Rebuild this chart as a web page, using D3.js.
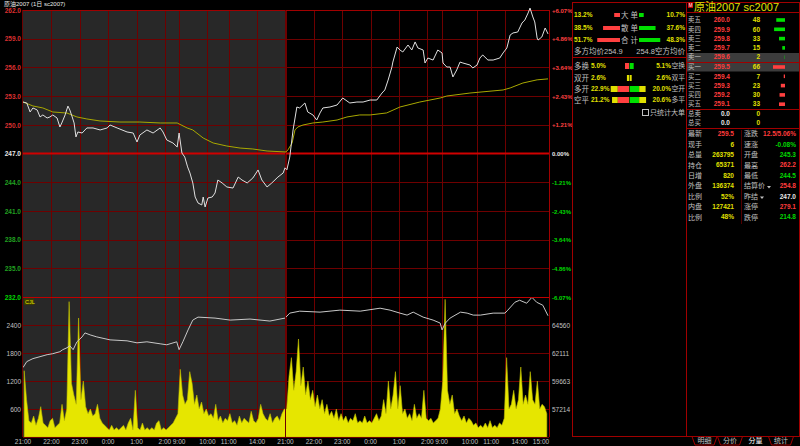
<!DOCTYPE html>
<html><head><meta charset="utf-8">
<script src="https://cdn.jsdelivr.net/npm/d3@7"></script>
<style>
body{margin:0;background:#000;overflow:hidden}
svg{display:block}
text{font-family:"Liberation Sans","Noto Sans CJK SC",sans-serif}
</style>
</head><body>
<svg id="c" width="800" height="446"></svg>
<script>
// ---------------- DATA ----------------
const prevSettle = 247.0;
const priceTicks = [262,259,256,253,250,247,244,241,238,235,232];
const volTicks = [600,1200,1800,2400];
const oiTicks = [57214,59663,62111,64560];
const timeLabels = ["21:00","22:00","23:00","0:00","1:00","2:00","9:00","10:00","11:00","14:00",
                    "21:00","22:00","23:00","0:00","1:00","2:00","9:00","10:00","11:00","14:00","15:00"];
const timeLabelMinutes = [0,60,120,180,240,300,330,390,435,495,555,615,675,735,795,855,885,945,990,1050,1110];
const gridMinutes = [60,120,180,240,300,330,390,435,495,555,615,675,735,795,855,885,960,1020];

const priceMinutes = [0,8,15,21,30,36,42,51,57,63,72,78,82,89,95,99,104,108,112,116,125,135,148,163,178,184,199,220,233,241,247,262,275,290,296,304,317,326,330,336,342,348,353,359,364,370,378,381,385,391,400,406,412,421,431,444,455,463,474,486,497,505,516,526,539,550,554,
 558,564,571,579,585,596,602,613,621,628,634,649,664,676,691,706,719,734,748,759,765,772,780,782,791,797,803,814,822,829,835,846,850,856,867,877,886,888,896,903,909,917,924,930,945,951,960,966,972,983,994,1008,1015,1023,1030,1036,1046,1055,1061,1068,1072,1078,1082,1087,1089,1097,1104,1110];
const priceValues = [252.38,252.28,251.34,251.76,251.55,250.82,251.03,250.71,250.82,251.03,250.71,249.77,250.19,251.03,251.96,251.55,250.82,250.19,248.73,249.25,249.14,249.67,249.67,249.46,249.67,249.98,249.67,249.25,249.14,248.2,248.93,249.46,249.14,249.67,249.25,248.41,248.1,247.68,249.14,247.05,246.63,245.6,244.96,243.92,242.45,241.83,241.62,242.45,241.41,242.35,242.45,242.87,244.23,243.92,243.5,243.39,244.54,244.23,243.92,244.44,245.28,244.23,243.5,243.92,244.54,244.96,245.5,
 245.3,246.63,249.46,251.86,251.76,252.28,251.34,251.03,250.5,251.24,251.76,251.86,252.07,252.8,252.28,252.38,252.38,252.59,252.59,253.32,253.64,254.68,256.04,256.56,258.13,257.82,257.61,258.34,257.82,258.66,258.03,257.82,256.46,256.98,256.77,257.82,257.51,256.46,256.04,256.04,255.0,255.73,256.56,256.46,256.25,255.94,256.25,256.98,257.3,256.77,256.77,256.98,257.51,258.03,259.39,259.6,259.7,260.64,260.95,261.69,262.2,261.27,260.75,259.07,258.86,259.18,260.12,259.5];

const avgMinutes = [0,21,42,63,93,114,135,163,205,247,290,326,347,359,381,402,431,459,486,516,556,
 560,569,575,581,592,613,634,664,685,712,734,769,797,839,882,896,945,1015,1030,1057,1087,1110];
const avgValues = [252.38,251.97,251.76,251.34,251.23,250.82,250.61,250.4,250.29,250.29,250.19,250.19,249.67,249.46,248.62,248.1,247.78,247.57,247.47,247.26,247.16,
 247.37,248.1,249.46,249.77,249.98,250.19,250.29,250.5,250.82,251.03,251.03,251.24,251.86,252.38,252.8,253.01,253.32,253.64,253.85,254.37,254.7,254.8];

const oiMinutes = [0,8,21,36,51,63,78,84,93,99,106,114,125,131,142,156,184,220,241,262,290,304,325,330,338,349,359,370,406,438,480,522,554,564,585,628,670,713,755,776,797,812,825,846,867,882,886,893,903,925,939,952,967,994,1019,1025,1040,1050,1065,1076,1086,1099,1110];
const oiValues = [60840,61360,61620,61790,61965,62050,62225,62400,62570,62745,62400,63090,63520,63870,63695,63520,63260,63175,63000,63090,62915,62830,63090,62400,63090,64130,64990,65250,65165,64990,65080,64905,65165,65600,65770,65685,65860,65770,66030,65860,65600,65425,65685,65250,64990,64730,64130,64730,65165,65685,65600,65425,65425,65600,65600,65860,66550,66725,66465,66980,66550,66290,65371];

// 5-minute volume bins (222 bins over 1110 minutes)
const volumeValues = [
 1420,800,350,300,450,250,400,650,300,250,
 200,350,400,200,250,300,700,350,600,2900,
 1150,900,700,2550,800,1200,650,500,600,450,
 500,700,400,300,250,200,150,250,150,200,
 150,200,250,150,300,400,150,1000,200,150,
 300,150,200,150,200,150,300,350,150,200,
 150,200,250,300,400,500,1450,900,700,800,
 1400,1150,700,900,600,750,500,600,450,500,
 400,700,350,450,300,400,350,500,300,350,
 250,450,300,400,350,300,550,350,300,400,
 700,500,400,350,500,300,400,450,350,500,
 600,
 600,1300,1700,1000,1400,2100,1100,1500,900,1200,
 800,1000,650,900,600,800,500,700,450,550,
 400,600,350,500,350,450,300,400,350,500,
 300,350,300,450,300,350,300,400,500,350,
 450,800,500,1200,600,900,1400,600,1100,500,
 600,400,500,350,700,400,500,400,1000,400,
 350,400,300,350,400,600,1200,2950,1000,700,
 900,500,600,450,350,450,300,400,350,250,
 300,200,250,200,300,200,350,200,250,200,
 300,250,400,1700,600,700,1000,600,800,1500,
 700,900,700,1400,800,700,1200,600,700,650,
 500];

// middle panel
const flowLabels = ["大 单","散 单","合 计"];
const flowBuy = [13.2,38.5,51.7];
const flowSell = [10.7,37.6,48.3];
const avgBuyPrice = 254.9, avgSellPrice = 254.8;
const posLeftLabels = ["多换","双开","多开","空平"];
const posLeftVals = [5.0,2.6,22.9,21.2];
const posRightLabels = ["空换","双平","空开","多平"];
const posRightVals = [5.1,2.6,20.0,20.6];
const posLeftInner = [5.0,0,14.0,14.0];
const posRightInner = [5.1,0,12.0,12.0];

// order book
const askLabels = ["卖五","卖四","卖三","卖二","卖一"];
const askPrices = [260.0,259.9,259.8,259.7,259.6];
const askVols = [48,60,33,15,2];
const bidLabels = ["买一","买二","买三","买四","买五"];
const bidPrices = [259.5,259.4,259.3,259.2,259.1];
const bidVols = [66,7,23,30,33];

// stats
const statLeftLabels = ["最新","现手","总量","持仓","日增","外盘","比例","内盘","比例"];
const statLeftVals = ["259.5","6","263795","65371","820","136374","52%","127421","48%"];
const statRightLabels = ["涨跌","速涨","开盘","最高","最低","结算价","昨结","涨停","跌停"];
const statRightVals = ["12.5/5.06%","-0.08%","245.3","262.2","244.5","254.8","247.0","279.1","214.8"];
const tabLabels = ["明细","分价","分量","统计"];

// ---------------- DRAW ----------------
const RED="#ff3c3c", GREEN="#00d800", YEL="#e0e000", GRAY="#c0c0c0", WHITE="#e8e8e8", GRID="#6e0000", BORDER="#a00000";
const NUM=6.5, CJK=7.5, CJKS=6.4;
const svg = d3.select("#c");
svg.append("rect").attr("width",800).attr("height",446).attr("fill","#000");
const defs = svg.append("defs");
defs.append("clipPath").attr("id","mclip").append("rect").attr("x",572).attr("y",0).attr("width",114).attr("height",446);

const L=23, R=548;
const x = d3.scaleLinear().domain([0,1110]).range([L,R]);
const y = d3.scaleLinear().domain([232,262]).range([297,10]);
const yv = d3.scaleLinear().domain([0,3000]).range([437,297]);
const yo = d3.scaleLinear().domain([54765,67009]).range([437,297]);

// day-1 shading
svg.append("rect").attr("x",x(0)).attr("y",10).attr("width",x(555)-x(0)).attr("height",427).attr("fill","#282828");

// grids
const g = svg.append("g");
g.selectAll(".hg").data(priceTicks.filter(t=>t!==prevSettle && t!==262 && t!==232)).join("line")
 .attr("x1",L).attr("x2",549).attr("y1",d=>Math.round(y(d))+0.5).attr("y2",d=>Math.round(y(d))+0.5).attr("stroke",GRID);
g.selectAll(".vg").data(volTicks).join("line")
 .attr("x1",L).attr("x2",549).attr("y1",d=>Math.round(yv(d))+0.5).attr("y2",d=>Math.round(yv(d))+0.5).attr("stroke",GRID);
g.selectAll(".tg").data(gridMinutes).join("line")
 .attr("x1",d=>Math.round(x(d))+0.5).attr("x2",d=>Math.round(x(d))+0.5).attr("y1",10).attr("y2",437).attr("stroke",GRID);

// volume area
const binW = 5;
const volArea = d3.area().x((d,i)=>x(i*binW+binW/2)).y0(437).y1(d=>yv(d)).curve(d3.curveLinear);
svg.append("path").datum(volumeValues).attr("d",volArea).attr("fill","#e6e600").attr("stroke","#bcbc00").attr("stroke-width",0.6);

// open interest line
svg.append("path").datum(oiMinutes.map((m,i)=>[m,oiValues[i]]))
 .attr("d",d3.line().x(d=>x(d[0])).y(d=>yo(d[1]))).attr("fill","none").attr("stroke","#c8c8c8").attr("stroke-width",1);

// frame lines
svg.append("line").attr("x1",L).attr("x2",549).attr("y1",10.5).attr("y2",10.5).attr("stroke",BORDER);
svg.append("line").attr("x1",L).attr("x2",549).attr("y1",297.5).attr("y2",297.5).attr("stroke","#c00000").attr("stroke-width",1.2);
svg.append("line").attr("x1",L).attr("x2",549).attr("y1",y(prevSettle)).attr("y2",y(prevSettle)).attr("stroke","#d00000").attr("stroke-width",2);
svg.append("line").attr("x1",L).attr("x2",549).attr("y1",437.5).attr("y2",437.5).attr("stroke",GRID);
svg.append("line").attr("x1",22.5).attr("x2",22.5).attr("y1",10).attr("y2",437).attr("stroke",GRID);
svg.append("line").attr("x1",549.5).attr("x2",549.5).attr("y1",10).attr("y2",437).attr("stroke",BORDER);
svg.append("line").attr("x1",x(555)).attr("x2",x(555)).attr("y1",10).attr("y2",437).attr("stroke",GRID);

// avg + price lines
svg.append("path").datum(avgMinutes.map((m,i)=>[m,avgValues[i]]))
 .attr("d",d3.line().x(d=>x(d[0])).y(d=>y(d[1]))).attr("fill","none").attr("stroke","#a8a800").attr("stroke-width",1);
svg.append("path").datum(priceMinutes.map((m,i)=>[m,priceValues[i]]))
 .attr("d",d3.line().x(d=>x(d[0])).y(d=>y(d[1]))).attr("fill","none").attr("stroke","#e0e0e0").attr("stroke-width",1);

// price axis labels
svg.selectAll(".pl").data(priceTicks).join("text")
 .attr("x",21).attr("y",d=>y(d)+0.5).attr("dy","0.35em").attr("text-anchor","end").attr("font-size",NUM).attr("font-weight","bold")
 .attr("fill",d=>d>prevSettle?"#d83030":d<prevSettle?(d===232?GREEN:"#20a020"):WHITE).text(d=>d.toFixed(1));
svg.selectAll(".pp").data(priceTicks).join("text")
 .attr("x",552).attr("y",d=>y(d)+0.5).attr("dy","0.35em").attr("font-size",6).attr("font-weight","bold")
 .attr("fill",d=>d>prevSettle?"#ff4040":d<prevSettle?GREEN:WHITE)
 .text(d=>{const p=(d-prevSettle)/prevSettle*100;return (p>0?"+":"")+p.toFixed(2)+"%";});
svg.selectAll(".vl").data(volTicks).join("text")
 .attr("x",21).attr("y",d=>yv(d)+0.5).attr("dy","0.35em").attr("text-anchor","end").attr("font-size",NUM).attr("fill",GRAY).text(d=>d);
svg.selectAll(".ol").data(oiTicks).join("text")
 .attr("x",552).attr("y",d=>yo(d)+0.5).attr("dy","0.35em").attr("font-size",NUM).attr("fill",GRAY).text(d=>d);
// time labels
svg.selectAll(".tl").data(timeLabels).join("text")
 .attr("x",(d,i)=>Math.min(x(timeLabelMinutes[i]),541)).attr("y",442).attr("dy","0.35em").attr("text-anchor","middle")
 .attr("font-size",NUM).attr("fill",GRAY).text(d=>d);

// CJL tag
svg.append("rect").attr("x",24).attr("y",298.5).attr("width",10).attr("height",6.5).attr("fill","#3a3a00");
svg.append("text").attr("x",25).attr("y",302).attr("dy","0.35em").attr("font-size",5.5).attr("fill",YEL).text("CJL");
// top-left title
svg.append("text").attr("x",4).attr("y",4).attr("dy","0.35em").attr("font-size",6).attr("fill",WHITE).text("原油2007 (1日  sc2007)");

// ---- panel borders ----
const vline=(xx,y1,y2,c)=>svg.append("line").attr("x1",xx).attr("x2",xx).attr("y1",y1).attr("y2",y2).attr("stroke",c||BORDER);
const hline=(yy,x1,x2,c)=>svg.append("line").attr("x1",x1).attr("x2",x2).attr("y1",yy).attr("y2",yy).attr("stroke",c||BORDER);
vline(572.5,2,437); vline(686.5,2,437); vline(799.5,2,437);
hline(2.5,572,800); hline(57.5,572,686); hline(12.5,686,800); hline(62.5,686,800); hline(109.5,686,800); hline(128.5,686,800);
hline(436.5,572,686); hline(436.5,686,800);
vline(741.5,130,224,"#500000");

// ---- middle panel ----
const mp = svg.append("g").attr("clip-path","url(#mclip)");
const barS = d3.scaleLinear().domain([0,100]).range([0,44]);
const fy = [15,28,40];
flowLabels.forEach((lab,i)=>{
  mp.append("text").attr("x",574).attr("y",fy[i]).attr("dy","0.35em").attr("font-size",NUM).attr("font-weight","bold").attr("fill",YEL).text(flowBuy[i].toFixed(1)+"%");
  mp.append("rect").attr("x",620-barS(flowBuy[i])).attr("y",fy[i]-2).attr("width",barS(flowBuy[i])).attr("height",4).attr("fill","#ff4040");
  mp.append("text").attr("x",629.5).attr("y",fy[i]).attr("dy","0.35em").attr("text-anchor","middle").attr("font-size",CJK).attr("fill",GRAY).text(lab);
  mp.append("rect").attr("x",639).attr("y",fy[i]-2).attr("width",barS(flowSell[i])).attr("height",4).attr("fill","#00e000");
  mp.append("text").attr("x",685).attr("y",fy[i]).attr("dy","0.35em").attr("text-anchor","end").attr("font-size",NUM).attr("font-weight","bold").attr("fill",YEL).text(flowSell[i].toFixed(1)+"%");
});
mp.append("text").attr("x",574).attr("y",51).attr("dy","0.35em").attr("font-size",CJK).attr("fill",GRAY).text("多方均价"+avgBuyPrice.toFixed(1));
mp.append("text").attr("x",685).attr("y",51).attr("dy","0.35em").attr("text-anchor","end").attr("font-size",CJK).attr("fill",GRAY).text(avgSellPrice.toFixed(1)+"空方均价");
const py=[66,78,89,100];
const ps = d3.scaleLinear().domain([0,100]).range([0,80]);
posLeftLabels.forEach((lab,i)=>{
  mp.append("text").attr("x",574).attr("y",py[i]).attr("dy","0.35em").attr("font-size",CJK).attr("fill",GRAY).text(lab);
  mp.append("text").attr("x",591).attr("y",py[i]).attr("dy","0.35em").attr("font-size",NUM).attr("font-weight","bold").attr("fill",YEL).text(posLeftVals[i].toFixed(1)+"%");
  mp.append("text").attr("x",671).attr("y",py[i]).attr("dy","0.35em").attr("text-anchor","end").attr("font-size",NUM).attr("font-weight","bold").attr("fill",YEL).text(posRightVals[i].toFixed(1)+"%");
  mp.append("text").attr("x",685).attr("y",py[i]).attr("dy","0.35em").attr("text-anchor","end").attr("font-size",6.8).attr("fill",GRAY).text(posRightLabels[i]);
  const c=629, lw=ps(posLeftVals[i]), rw=ps(posRightVals[i]), li=ps(posLeftInner[i]), ri=ps(posRightInner[i]);
  mp.append("rect").attr("x",c-lw).attr("y",py[i]-3).attr("width",lw-li).attr("height",6).attr("fill",YEL);
  mp.append("rect").attr("x",c-li).attr("y",py[i]-3).attr("width",li).attr("height",6).attr("fill","#ff4040");
  mp.append("rect").attr("x",c+0.6).attr("y",py[i]-3).attr("width",ri).attr("height",6).attr("fill","#00e000");
  mp.append("rect").attr("x",c+0.6+ri).attr("y",py[i]-3).attr("width",rw-ri).attr("height",6).attr("fill",YEL);
});
mp.append("rect").attr("x",642.5).attr("y",109.5).attr("width",6).attr("height",6).attr("fill","none").attr("stroke",GRAY);
mp.append("text").attr("x",685).attr("y",112.5).attr("dy","0.35em").attr("text-anchor","end").attr("font-size",7).attr("fill",GRAY).text("只统计大单");

// ---- order book ----
const ob = svg.append("g");
ob.append("rect").attr("x",688).attr("y",2).attr("width",5).attr("height",6).attr("fill","#c00000");
ob.append("text").attr("x",688.7).attr("y",5).attr("dy","0.35em").attr("font-size",4.5).attr("fill","#fff").text("M");
ob.append("text").attr("x",694).attr("y",7).attr("dy","0.38em").attr("font-size",11).attr("font-family","'Liberation Serif','Noto Sans CJK SC',serif").attr("fill",YEL).text("原油2007  sc2007");
ob.append("rect").attr("x",687).attr("y",53).attr("width",112).attr("height",9).attr("fill","#3c3c3c");
ob.append("rect").attr("x",687).attr("y",63).attr("width",112).attr("height",8.5).attr("fill","#3c3c3c");
const bw = d3.scaleLinear().domain([0,66]).range([0,12]);
const row = (lab,pr,vol,yy,col)=>{
  ob.append("text").attr("x",688).attr("y",yy).attr("dy","0.35em").attr("font-size",CJKS).attr("fill",GRAY).text(lab);
  ob.append("text").attr("x",730).attr("y",yy).attr("dy","0.35em").attr("text-anchor","end").attr("font-size",NUM).attr("font-weight","bold").attr("fill",RED).text(pr.toFixed(1));
  ob.append("text").attr("x",760).attr("y",yy).attr("dy","0.35em").attr("text-anchor","end").attr("font-size",NUM).attr("font-weight","bold").attr("fill",YEL).text(vol);
  ob.append("rect").attr("x",785-bw(vol)).attr("y",yy-1.8).attr("width",bw(vol)).attr("height",3.6).attr("fill",col);
};
askLabels.forEach((l,i)=>row(l,askPrices[i],askVols[i],20+i*9.3,"#00e000"));
bidLabels.forEach((l,i)=>row(l,bidPrices[i],bidVols[i],67+i*9.3,"#ff4040"));
[["总卖",113.5],["总买",122.5]].forEach(([l,yy])=>{
  ob.append("text").attr("x",688).attr("y",yy).attr("dy","0.35em").attr("font-size",CJKS).attr("fill",GRAY).text(l);
  ob.append("text").attr("x",730).attr("y",yy).attr("dy","0.35em").attr("text-anchor","end").attr("font-size",NUM).attr("font-weight","bold").attr("fill",WHITE).text("0.0");
  ob.append("text").attr("x",760).attr("y",yy).attr("dy","0.35em").attr("text-anchor","end").attr("font-size",NUM).attr("font-weight","bold").attr("fill",YEL).text("0");
});

// ---- stats ----
const leftCol = (i)=> i===0?RED:YEL;
const rightCol = [RED,GREEN,GREEN,RED,GREEN,RED,WHITE,RED,GREEN];
statLeftLabels.forEach((l,i)=>{
  const yy=134+i*10.4;
  ob.append("text").attr("x",688).attr("y",yy).attr("dy","0.35em").attr("font-size",7).attr("fill",GRAY).text(l);
  ob.append("text").attr("x",734).attr("y",yy).attr("dy","0.35em").attr("text-anchor","end").attr("font-size",NUM).attr("font-weight","bold").attr("fill",leftCol(i)).text(statLeftVals[i]);
  ob.append("text").attr("x",744).attr("y",yy).attr("dy","0.35em").attr("font-size",7).attr("fill",GRAY).text(statRightLabels[i]);
  if(i===5||i===6){
    const tx = i===5?767:760;
    ob.append("path").attr("d",`M${tx},${yy} l4,0 l-2,2.5 z`).attr("fill",GRAY);
  }
  ob.append("text").attr("x",796).attr("y",yy).attr("dy","0.35em").attr("text-anchor","end").attr("font-size",NUM).attr("font-weight","bold").attr("fill",rightCol[i]).text(statRightVals[i]);
});

// ---- tabs ----
tabLabels.forEach((t,i)=>{
  const x0=692+i*25.5;
  if(i!==2) ob.append("path").attr("d",`M${x0},436.5 L${x0+3},445 L${x0+22},445 L${x0+25},436.5`).attr("fill","none").attr("stroke",BORDER);
  ob.append("text").attr("x",x0+12.5).attr("y",441).attr("dy","0.35em").attr("text-anchor","middle").attr("font-size",7).attr("fill",i===2?"#fff":GRAY).text(t);
});
</script>
</body></html>
